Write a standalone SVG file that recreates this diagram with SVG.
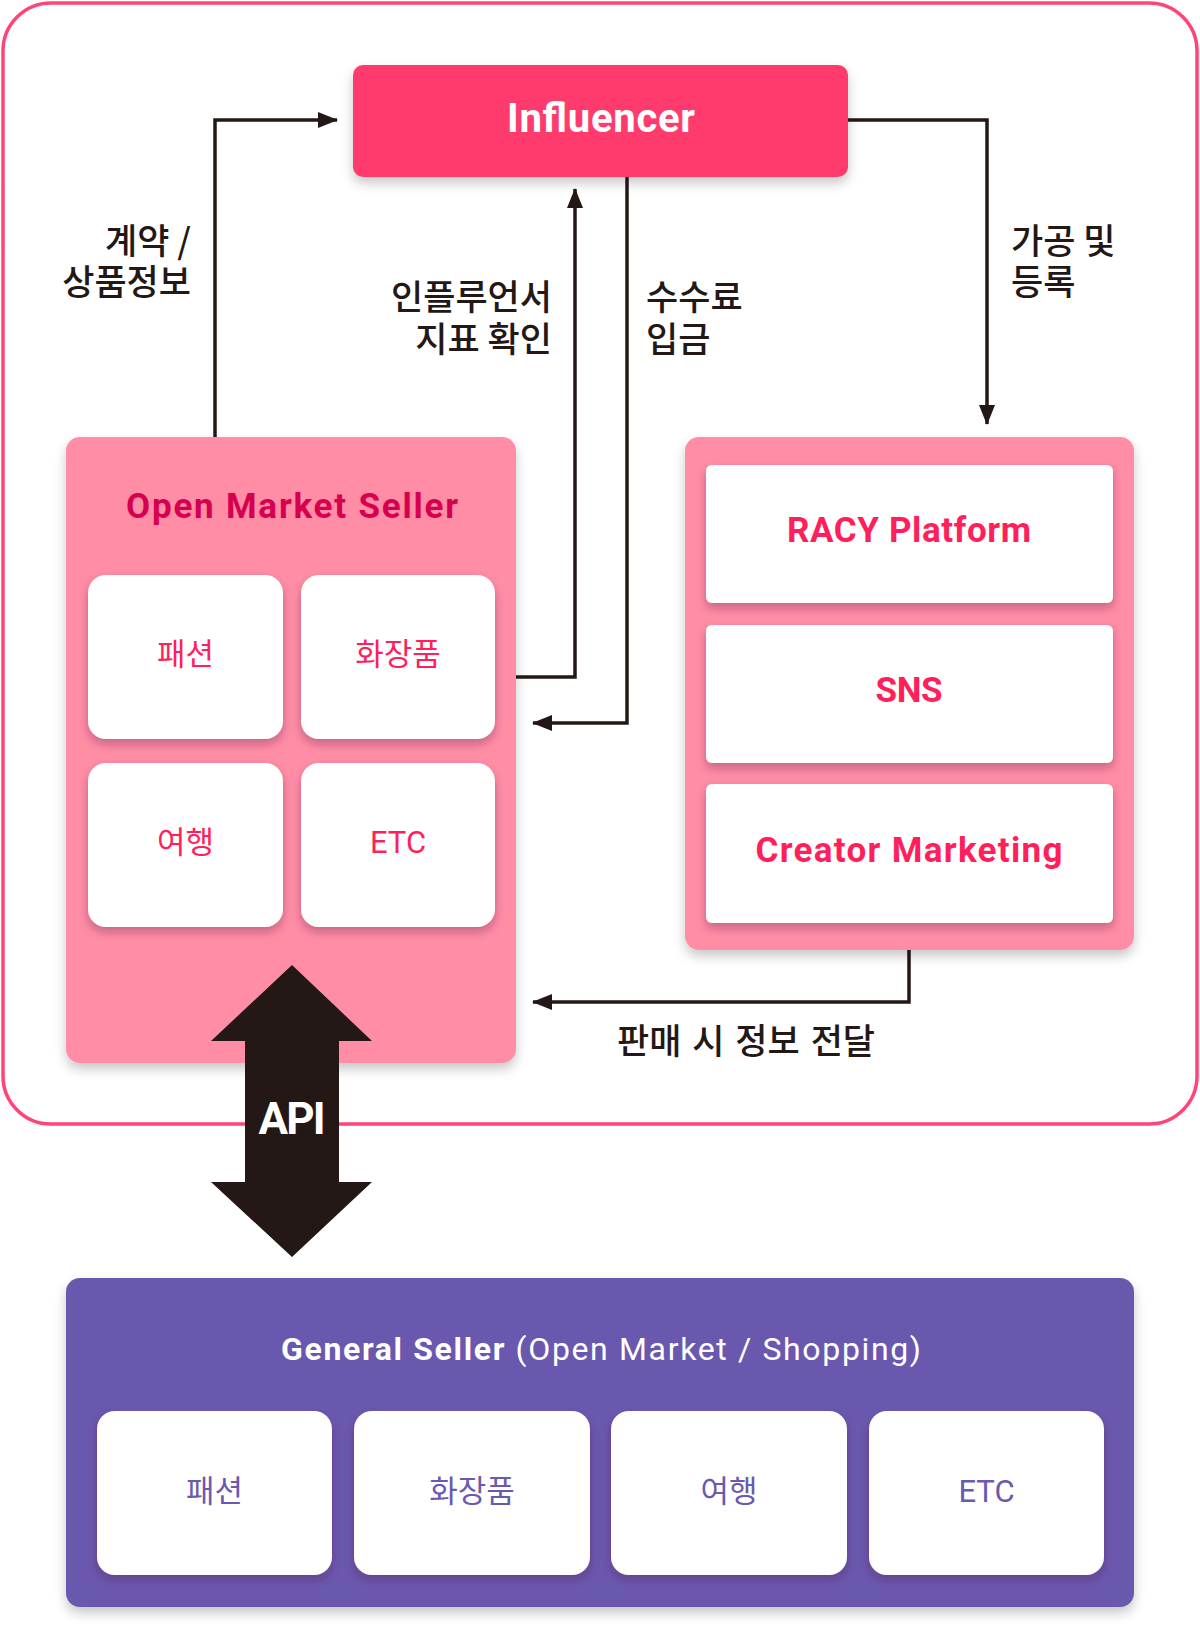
<svg xmlns="http://www.w3.org/2000/svg" width="1200" height="1639" viewBox="0 0 1200 1639">
<defs>
<style>
.lat{font-family:Roboto,"Noto Sans","Noto Sans CJK KR",sans-serif}
.kr{font-family:"Noto Sans CJK KR","Noto Sans",sans-serif}
.lbl{font-family:"Noto Sans CJK KR","Noto Sans",sans-serif;font-size:35px;fill:#231815;font-weight:500}
.cellp{fill:#ffffff}
.ptxt{fill:#FF1F5A;font-size:31px}
.vtxt{fill:#6B59AE;font-size:31px}
.conn{fill:none;stroke:#231815;stroke-width:3.5}
</style>
<filter id="sh" x="-20%" y="-20%" width="140%" height="150%">
<feDropShadow dx="0" dy="6" stdDeviation="6" flood-color="#000" flood-opacity="0.22"/>
</filter>
<filter id="sh2" x="-20%" y="-20%" width="140%" height="150%">
<feDropShadow dx="0" dy="5" stdDeviation="5" flood-color="#5a2040" flood-opacity="0.35"/>
</filter>
<marker id="ah" viewBox="0 0 20 16" refX="19" refY="8" markerWidth="20" markerHeight="16" markerUnits="userSpaceOnUse" orient="auto">
<path d="M0,0 L20,8 L0,16 z" fill="#231815"/>
</marker>
</defs>
<rect width="1200" height="1639" fill="#ffffff"/>

<g id="frame">
<rect x="3" y="3" width="1194" height="1121" rx="48" fill="none" stroke="#FF4477" stroke-width="3.5"/>
</g>

<g id="connectors">
<polyline class="conn" points="215,437 215,120 337,120" marker-end="url(#ah)"/>
<polyline class="conn" points="516,677 575,677 575,189" marker-end="url(#ah)"/>
<polyline class="conn" points="627,177 627,723 533,723" marker-end="url(#ah)"/>
<polyline class="conn" points="848,120 987,120 987,424" marker-end="url(#ah)"/>
<polyline class="conn" points="909,950 909,1002 533,1002" marker-end="url(#ah)"/>
<text class="lbl" text-anchor="end"><tspan x="191" y="254">계약 /</tspan><tspan x="191" y="295">상품정보</tspan></text>
<text class="lbl" text-anchor="end"><tspan x="552" y="310">인플루언서</tspan><tspan x="552" y="352">지표 확인</tspan></text>
<text class="lbl"><tspan x="646" y="310">수수료</tspan><tspan x="646" y="352">입금</tspan></text>
<text class="lbl"><tspan x="1011" y="254">가공 및</tspan><tspan x="1011" y="295">등록</tspan></text>
<text class="lbl" x="617" y="1054" word-spacing="3">판매 시 정보 전달</text>
</g>

<g id="influencer">
<rect x="353" y="65" width="495" height="112" rx="10" fill="#FF3A6E" filter="url(#sh)"/>
<text class="lat" x="601" y="132" text-anchor="middle" font-size="40" font-weight="700" fill="#ffffff" textLength="188">Influencer</text>
</g>

<g id="open-market-seller">
<rect x="66" y="437" width="450" height="626" rx="14" fill="#FF8DA6" filter="url(#sh)"/>
<text class="lat" x="292" y="518" text-anchor="middle" font-size="35" font-weight="700" fill="#D6004F" textLength="332">Open Market Seller</text>
<g id="oms-fashion">
<rect class="cellp" x="88" y="575" width="195" height="164" rx="18" filter="url(#sh2)"/>
<text class="kr ptxt" x="185.5" y="665" text-anchor="middle">패션</text>
</g>
<g id="oms-cosmetics">
<rect class="cellp" x="301" y="575" width="194" height="164" rx="18" filter="url(#sh2)"/>
<text class="kr ptxt" x="398" y="665" text-anchor="middle">화장품</text>
</g>
<g id="oms-travel">
<rect class="cellp" x="88" y="763" width="195" height="164" rx="18" filter="url(#sh2)"/>
<text class="kr ptxt" x="185.5" y="853" text-anchor="middle">여행</text>
</g>
<g id="oms-etc">
<rect class="cellp" x="301" y="763" width="194" height="164" rx="18" filter="url(#sh2)"/>
<text class="lat ptxt" x="398" y="853" text-anchor="middle">ETC</text>
</g>
</g>

<g id="platforms">
<rect x="685" y="437" width="449" height="513" rx="14" fill="#FF8DA6" filter="url(#sh)"/>
<g id="racy">
<rect class="cellp" x="706" y="465" width="407" height="138" rx="6" filter="url(#sh2)"/>
<text class="lat" x="909" y="542" text-anchor="middle" font-size="35" font-weight="700" fill="#FF1F5A" textLength="244">RACY Platform</text>
</g>
<g id="sns">
<rect class="cellp" x="706" y="625" width="407" height="138" rx="6" filter="url(#sh2)"/>
<text class="lat" x="909" y="702" text-anchor="middle" font-size="35" font-weight="700" fill="#FF1F5A" textLength="67">SNS</text>
</g>
<g id="creator">
<rect class="cellp" x="706" y="784" width="407" height="139" rx="6" filter="url(#sh2)"/>
<text class="lat" x="909" y="862" text-anchor="middle" font-size="35" font-weight="700" fill="#FF1F5A" textLength="307">Creator Marketing</text>
</g>
</g>

<g id="api">
<polygon points="292,965 372,1041 339,1041 339,1182 372,1182 292,1257 211,1182 245,1182 245,1041 211,1041" fill="#231815"/>
<text class="lat" x="292" y="1134" text-anchor="middle" font-size="44" font-weight="700" fill="#ffffff" textLength="67">API</text>
</g>

<g id="general-seller">
<rect x="66" y="1278" width="1068" height="329" rx="14" fill="#6B59AE" filter="url(#sh)"/>
<text class="lat" x="601" y="1360" text-anchor="middle" font-size="32" fill="#ffffff" textLength="640"><tspan font-weight="700">General Seller</tspan> (Open Market / Shopping)</text>
<g id="gs-fashion">
<rect class="cellp" x="97" y="1411" width="235" height="164" rx="18" filter="url(#sh2)"/>
<text class="kr vtxt" x="214.5" y="1502" text-anchor="middle">패션</text>
</g>
<g id="gs-cosmetics">
<rect class="cellp" x="354" y="1411" width="236" height="164" rx="18" filter="url(#sh2)"/>
<text class="kr vtxt" x="472" y="1502" text-anchor="middle">화장품</text>
</g>
<g id="gs-travel">
<rect class="cellp" x="611" y="1411" width="236" height="164" rx="18" filter="url(#sh2)"/>
<text class="kr vtxt" x="729" y="1502" text-anchor="middle">여행</text>
</g>
<g id="gs-etc">
<rect class="cellp" x="869" y="1411" width="235" height="164" rx="18" filter="url(#sh2)"/>
<text class="lat vtxt" x="986.5" y="1502" text-anchor="middle">ETC</text>
</g>
</g>
</svg>
